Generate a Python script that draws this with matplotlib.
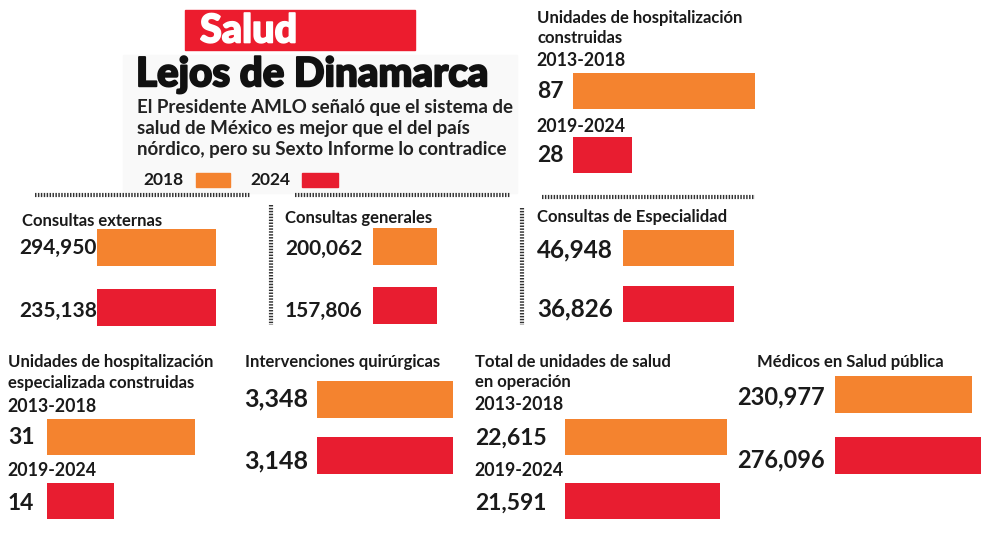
"""Salud: Lejos de Dinamarca -- paired bar panels, 2018 vs 2024."""

import matplotlib
matplotlib.use("Agg")
import matplotlib.pyplot as plt  # noqa: E402
import matplotlib.patheffects as pe  # noqa: E402
from matplotlib.patches import Rectangle  # noqa: E402
from matplotlib.transforms import Bbox, TransformedBbox  # noqa: E402

W, H = 981, 538
ORANGE = "#f4832f"
RED = "#e81d30"
INK = "#1a1a1a"
FONT = ["Lato", "DejaVu Sans"]

# values: [2018 / 2013-2018, 2024 / 2019-2024]
HOSP_CONSTRUIDAS = [87, 28]
CONSULTAS_EXTERNAS = [294950, 235138]
CONSULTAS_GENERALES = [200062, 157806]
CONSULTAS_ESPECIALIDAD = [46948, 36826]
HOSP_ESPECIALIZADA = [31, 14]
INTERVENCIONES = [3348, 3148]
UNIDADES_SALUD = [22615, 21591]
MEDICOS = [230977, 276096]

PERIODS = ["2013-2018", "2019-2024"]
LEGEND_YEARS = ["2018", "2024"]

LABEL = 12
PERIOD = 12.8

fig = plt.figure(figsize=(W / 100, H / 100), dpi=100)
fig.patch.set_facecolor("white")

over = fig.add_axes([0, 0, 1, 1], zorder=10)
over.set_xlim(0, W)
over.set_ylim(H, 0)
over.axis("off")
over.patch.set_alpha(0)


def rect(x0, y0, x1, y1):
    return [x0 / W, 1 - y1 / H, (x1 - x0) / W, (y1 - y0) / H]


def txt(x, y, s, size, weight="bold", color=INK, clip=None, stroke=0):
    t = over.text(x, y, s, fontsize=size, fontweight=weight, color=color,
                  ha="left", va="center", family=FONT)
    if stroke:
        t.set_path_effects([pe.withStroke(linewidth=stroke, foreground=color)])
    if clip is not None:
        box = TransformedBbox(Bbox.from_extents(0, 0, clip, H), over.transData)
        t.set_clip_box(box)
        t.set_clip_on(True)
    return t


def bar_panel(values, x0, x1, xmax, yc, bar_px):
    d = yc[1] - yc[0]
    half = bar_px / 2
    ax = fig.add_axes(rect(x0, yc[0] - half, x1, yc[1] + half))
    ax.barh([0, 1], values, height=bar_px / d, color=[ORANGE, RED])
    ax.set_xlim(0, xmax)
    ax.set_ylim(1 + half / d, -half / d)
    ax.axis("off")
    return ax


def dotted(xs, ys):
    over.plot(xs, ys, color="#333333", linewidth=3, linestyle=(0, (0.35, 0.35)),
              solid_capstyle="butt")


# header
over.add_patch(Rectangle((123, 55), 394, 138, color="#f9f9f9", zorder=0))
over.add_patch(Rectangle((185, 10), 230, 40, color="#ec1c2e"))
txt(200, 31, "Salud", 28.5, weight="black", color="white", stroke=1.2)
txt(136, 75, "Lejos de Dinamarca", 29, weight="black", color="#111111", stroke=1.4)
sub = ["El Presidente AMLO señaló que el sistema de",
       "salud de México es mejor que el del país",
       "nórdico, pero su Sexto Informe lo contradice"]
for i, line in enumerate(sub):
    txt(137, 107 + i * 21.5, line, 13.5, clip=517, color="#222222")
txt(143, 180, LEGEND_YEARS[0], 12.5)
over.add_patch(Rectangle((196, 173), 34, 14, color=ORANGE))
txt(250, 180, LEGEND_YEARS[1], 12.5)
over.add_patch(Rectangle((302, 173), 36, 14, color=RED))

dotted([35, 250], [195, 195])
dotted([295, 510], [195, 195])
dotted([542, 755], [197, 197])
dotted([271, 271], [205, 325])
dotted([522, 522], [208, 325])

# hospital units built
txt(537, 18, "Unidades de hospitalización", LABEL, clip=755)
txt(537, 38, "construidas", LABEL)
txt(536, 60, PERIODS[0], PERIOD)
bar_panel(HOSP_CONSTRUIDAS, 573, 755, 87, (90.5, 155), 36)
txt(537, 92, f"{HOSP_CONSTRUIDAS[0]:,}", 16.5)
txt(536, 126, PERIODS[1], PERIOD)
txt(537, 156, f"{HOSP_CONSTRUIDAS[1]:,}", 16.5)

# external consultations
txt(22, 221, "Consultas externas", LABEL)
bar_panel(CONSULTAS_EXTERNAS, 97, 216, 200000, (247, 307), 37)
txt(19, 248, f"{CONSULTAS_EXTERNAS[0]:,}", 15)
txt(19, 311, f"{CONSULTAS_EXTERNAS[1]:,}", 15)

# general consultations
txt(285, 218, "Consultas generales", LABEL)
bar_panel(CONSULTAS_GENERALES, 373, 437, 150000, (246.5, 305.5), 37)
txt(285, 249, f"{CONSULTAS_GENERALES[0]:,}", 15)
txt(285, 311, f"{CONSULTAS_GENERALES[1]:,}", 15)

# specialty consultations
txt(537, 217, "Consultas de Especialidad", LABEL, clip=733)
bar_panel(CONSULTAS_ESPECIALIDAD, 623, 734, 35000, (248, 304), 36)
txt(537, 250, f"{CONSULTAS_ESPECIALIDAD[0]:,}", 17.5)
txt(537, 309, f"{CONSULTAS_ESPECIALIDAD[1]:,}", 17.5)

# specialised hospital units built
txt(8, 362, "Unidades de hospitalización", LABEL)
txt(8, 383, "especializada construidas", LABEL)
txt(7, 406, PERIODS[0], PERIOD)
bar_panel(HOSP_ESPECIALIZADA, 47, 195, 31, (437, 501), 36)
txt(8, 437, f"{HOSP_ESPECIALIZADA[0]:,}", 16.5)
txt(7, 471, PERIODS[1], PERIOD)
txt(8, 503, f"{HOSP_ESPECIALIZADA[1]:,}", 16.5)

# surgical interventions
txt(245, 362, "Intervenciones quirúrgicas", LABEL, clip=453)
bar_panel(INTERVENCIONES, 317, 453, 3000, (399, 455), 37)
txt(244, 399, f"{INTERVENCIONES[0]:,}", 18)
txt(244, 461, f"{INTERVENCIONES[1]:,}", 18)

# health units in operation
txt(475, 362, "Total de unidades de salud", LABEL)
txt(475, 382, "en operación", LABEL)
txt(474, 405, PERIODS[0], PERIOD)
bar_panel(UNIDADES_SALUD, 565, 727, 22615, (437, 501), 36)
txt(475, 438, f"{UNIDADES_SALUD[0]:,}", 16.5)
txt(474, 470, PERIODS[1], PERIOD)
txt(475, 503, f"{UNIDADES_SALUD[1]:,}", 16.5)

# doctors in public health
txt(757, 362, "Médicos en Salud pública", LABEL)
bar_panel(MEDICOS, 835, 981, 246000, (394.5, 455), 37)
txt(737, 397, f"{MEDICOS[0]:,}", 17)
txt(737, 460, f"{MEDICOS[1]:,}", 17)

fig.savefig("out.png", dpi=100)
